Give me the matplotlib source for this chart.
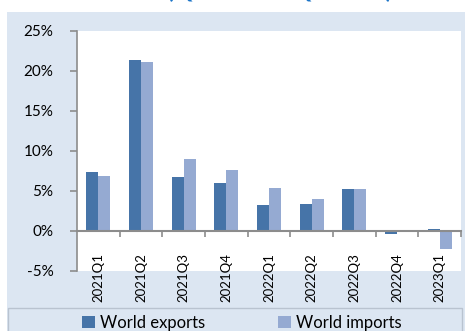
import matplotlib
matplotlib.use("Agg")
import matplotlib.pyplot as plt
from matplotlib.patches import Rectangle
import numpy as np

plt.rcParams["font.family"] = ["Lato", "DejaVu Sans"]

quarters = ["2021Q1", "2021Q2", "2021Q3", "2021Q4", "2022Q1",
            "2022Q2", "2022Q3", "2022Q4", "2023Q1"]
exports = [7.4, 21.4, 6.7, 6.0, 3.2, 3.4, 5.2, -0.4, 0.3]
imports = [6.9, 21.1, 9.0, 7.6, 5.4, 4.0, 5.3, 0.0, -2.2]
yticks = [-5, 0, 5, 10, 15, 20, 25]

c_exp = "#4674A8"
c_imp = "#95AAD2"
bg = "#DCE6F2"
axis_grey = "#8C8C8C"

W, H = 465, 331
fig = plt.figure(figsize=(W / 100, H / 100), dpi=100)
fig.patch.set_facecolor("white")

# light blue panel behind the chart
fig.patches.append(Rectangle((7 / W, 0), 1 - 7 / W, 1 - 12 / H,
                             transform=fig.transFigure, facecolor=bg,
                             edgecolor="none", zorder=0))
# legend frame, running off the bottom edge
fig.patches.append(Rectangle((8 / W, -0.05), 454 / W, 0.05 + 23.5 / H,
                             transform=fig.transFigure, facecolor=bg,
                             edgecolor="#B9C3D0", linewidth=1.0, zorder=1))

# title text cut by the top edge
fig.text(280 / W, 1.0 + 2 / H, "(Q1 2021 \u2013 Q1 2023)", color="#1C75C8",
         fontsize=17, fontweight="bold", ha="center", va="baseline")

ax = fig.add_axes([77 / W, (H - 271) / H, 384 / W, 240 / H])
ax.set_zorder(3)
ax.set_facecolor("white")

x = np.arange(len(quarters))
bw = 0.28
ax.bar(x - bw / 2, exports, bw, color=c_exp, zorder=2, label="World exports")
ax.bar(x + bw / 2, imports, bw, color=c_imp, zorder=2, label="World imports")

ax.set_xlim(-0.5, len(quarters) - 0.5)
ax.set_ylim(-5, 25)
ax.set_yticks(yticks)
ax.set_yticklabels([f"{v}%" for v in yticks])

for s in ["top", "right"]:
    ax.spines[s].set_visible(False)
ax.spines["left"].set_color(axis_grey)
ax.spines["left"].set_linewidth(1.2)
ax.spines["bottom"].set_position(("data", 0))
ax.spines["bottom"].set_color(axis_grey)
ax.spines["bottom"].set_linewidth(1.5)
ax.spines["bottom"].set_zorder(3)

ax.tick_params(axis="y", length=5, width=1.2, color=axis_grey, pad=12,
               labelsize=11, labelcolor="black")
ax.set_xticks(np.arange(len(quarters)) + 0.5)
ax.tick_params(axis="x", length=4, width=1.2, color=axis_grey,
               labelbottom=False)

# category labels hang below the zero line, rotated
for i, q in enumerate(quarters):
    ax.text(i, -2.75, q, rotation=90, rotation_mode="anchor", ha="right",
            va="center", fontsize=9.5, clip_on=False)

handles, labels = ax.get_legend_handles_labels()
fig.legend(handles, labels, loc="center", bbox_to_anchor=(0.52, 1 - 323 / H),
           ncol=2, frameon=False, fontsize=12, handlelength=0.75,
           handleheight=0.75, handletextpad=0.3, columnspacing=4.4,
           borderpad=0)

fig.savefig("out.png", dpi=100)
